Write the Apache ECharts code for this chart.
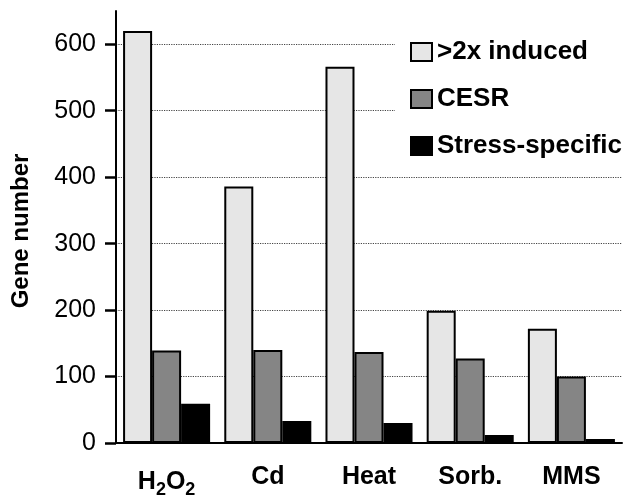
<!DOCTYPE html>
<html>
<head>
  <meta charset="utf-8">
  <title>Gene number</title>
  <script src="https://cdn.jsdelivr.net/npm/echarts@6/dist/echarts.min.js"></script>
  <style>
    html, body { margin: 0; padding: 0; background: #fff; }
    #main { width: 630px; height: 499px; }
  </style>
</head>
<body>
<div id="main"></div>
<script>
// data
var categories = ['H2O2', 'Cd', 'Heat', 'Sorb.', 'MMS'];
var induced = [620, 386, 566, 199, 172];
var cesr = [139, 140, 137, 127, 100];
var specific = [59, 33, 30, 12, 6];
var seriesNames = ['>2x induced', 'CESR', 'Stress-specific'];

var font = 'Liberation Sans, Arial, sans-serif';

var chart = echarts.init(document.getElementById('main'));

function bar(name, data, color) {
  return {
    name: name,
    type: 'bar',
    data: data,
    barGap: '0%',
    barCategoryGap: '14%',
    itemStyle: { color: color, borderColor: '#000', borderWidth: 2 }
  };
}

var option = {
  animation: false,
  backgroundColor: '#fff',
  grid: { left: 116, right: 8, top: 11, bottom: 56 },
  legend: {
    orient: 'vertical',
    left: 395,
    top: 29,
    padding: [10, 2, 10, 15],
    backgroundColor: '#fff',
    icon: 'rect',
    itemWidth: 21,
    itemHeight: 18,
    itemGap: 21,
    textStyle: { fontFamily: font, fontWeight: 'bold', fontSize: 26, color: '#000' },
    data: seriesNames
  },
  xAxis: {
    type: 'category',
    data: categories,
    axisLine: { lineStyle: { color: '#000', width: 2 } },
    axisTick: { length: 6, lineStyle: { color: '#000', width: 2 } },
    axisLabel: {
      interval: 0,
      margin: 22,
      fontFamily: font, fontWeight: 'bold', fontSize: 25, color: '#000',
      formatter: function (v) {
        if (v === 'H2O2') return 'H{sub|2}O{sub|2}';
        return v;
      },
      rich: {
        sub: { fontFamily: font, fontWeight: 'bold', fontSize: 18, color: '#000', padding: [16, 0, 0, 0] }
      }
    }
  },
  yAxis: {
    type: 'value',
    min: 0,
    max: 650,
    interval: 100,
    name: 'Gene number',
    nameLocation: 'middle',
    nameGap: 83,
    nameTextStyle: { fontFamily: font, fontWeight: 'bold', fontSize: 24, color: '#000', padding: [0, 8, 0, 0] },
    axisLine: { show: true, lineStyle: { color: '#000', width: 2 } },
    axisTick: { show: true, length: 11, lineStyle: { color: '#000', width: 2.5 } },
    axisLabel: { showMaxLabel: false, margin: 20, fontFamily: font, fontSize: 25, color: '#000' },
    splitLine: { show: true, showMaxLine: false, lineStyle: { color: '#444', type: 'dotted', width: 1.2 } }
  },
  series: [
    bar(seriesNames[0], induced, '#e6e6e6'),
    bar(seriesNames[1], cesr, '#858585'),
    bar(seriesNames[2], specific, '#000')
  ]
};

chart.setOption(option);
</script>
</body>
</html>
